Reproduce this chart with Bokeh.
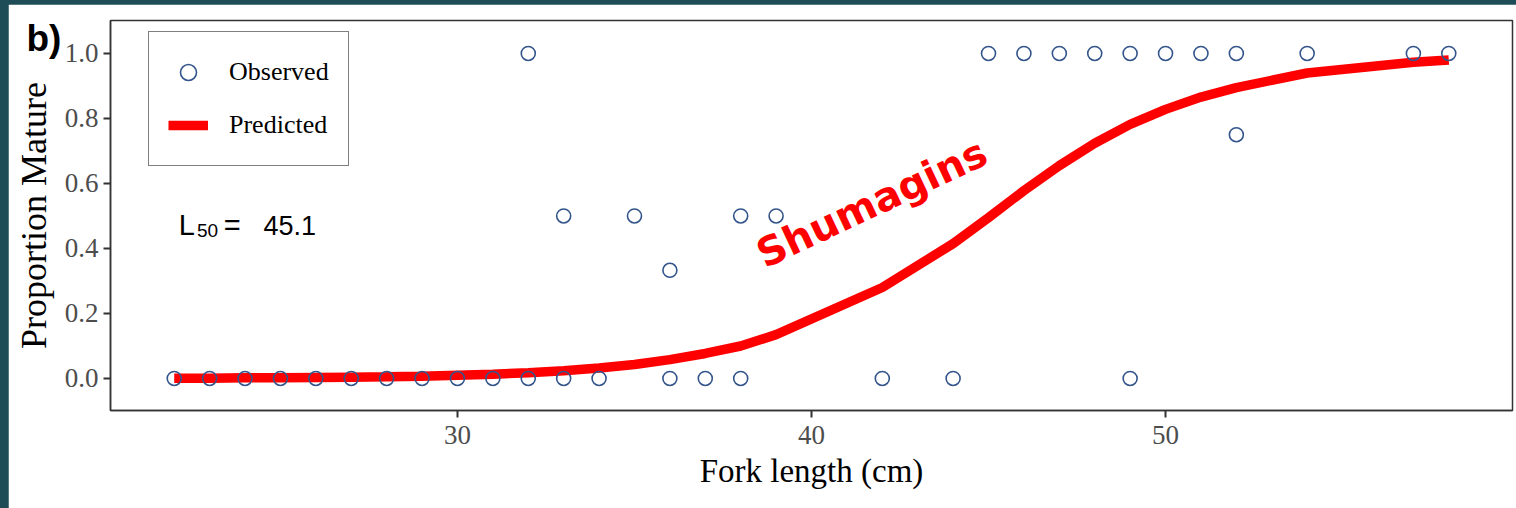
from bokeh.plotting import figure
from bokeh.models import (Range1d, Label, Legend, LegendItem, FixedTicker, PrintfTickFormatter,
                          ColumnDataSource, Title)
from bokeh.embed import file_html
from bokeh.resources import INLINE

# Observed data (fork length in cm, proportion mature)
fork_length_obs = [22, 23, 24, 25, 26, 27, 28, 29, 30, 31, 32, 32, 33, 33, 34, 35, 36, 36,
                   37, 38, 38, 39, 42, 44, 45, 46, 47, 48, 49, 49, 50, 51, 52, 52, 54, 57, 58]
prop_mature_obs = [0, 0, 0, 0, 0, 0, 0, 0, 0, 0, 0, 1.0, 0, 0.5, 0, 0.5, 0, 0.333,
                   0, 0, 0.5, 0.5, 0, 0, 1.0, 1.0, 1.0, 1.0, 1.0, 0, 1.0, 1.0, 1.0, 0.75, 1.0, 1.0, 1.0]

# Predicted curve (at each observed length)
fork_length_pred = [22, 23, 24, 25, 26, 27, 28, 29, 30, 31, 32, 33, 34, 35, 36, 37, 38, 39,
                    42, 44, 45, 46, 47, 48, 49, 50, 51, 52, 54, 57, 58]
prop_mature_pred = [0.001, 0.001, 0.002, 0.002, 0.003, 0.004, 0.005, 0.007, 0.010, 0.013,
                    0.018, 0.024, 0.032, 0.043, 0.058, 0.077, 0.100, 0.135,
                    0.280, 0.415, 0.495, 0.578, 0.655, 0.724, 0.782, 0.828, 0.866, 0.895,
                    0.940, 0.973, 0.980]

x_ticks = [30, 40, 50]
y_ticks = [0.0, 0.2, 0.4, 0.6, 0.8, 1.0]
l50_value = "45.1"

SERIF = "Liberation Serif"
SANS = "Liberation Sans"

p = figure(width=1508, height=504, output_backend="svg", toolbar_location=None,
           x_range=Range1d(20.2, 59.8), y_range=Range1d(-0.0985, 1.1015),
           min_border_left=102, min_border_right=4, min_border_top=16, min_border_bottom=98,
           background_fill_color="white", border_fill_color="white")

p.xgrid.visible = False
p.ygrid.visible = False
p.outline_line_color = "#333333"
p.outline_line_width = 1.5

for ax in (p.xaxis[0], p.yaxis[0]):
    ax.axis_line_color = "#333333"
    ax.axis_line_width = 1.5
    ax.major_tick_line_color = "#333333"
    ax.major_tick_line_width = 2
    ax.major_tick_out = 7
    ax.major_tick_in = 0
    ax.minor_tick_line_color = None
    ax.major_label_text_font = SERIF
    ax.major_label_text_font_size = "27px"
    ax.major_label_text_color = "#4d4d4d"
    ax.axis_label_text_font = SERIF
    ax.axis_label_text_font_style = "normal"
    ax.axis_label_text_color = "black"

p.xaxis[0].ticker = FixedTicker(ticks=x_ticks)
p.yaxis[0].ticker = FixedTicker(ticks=y_ticks)
p.yaxis[0].formatter = PrintfTickFormatter(format="%.1f")
p.xaxis[0].axis_label = "Fork length (cm)"
p.yaxis[0].axis_label = "Proportion Mature"
p.xaxis[0].axis_label_text_font_size = "33px"
p.yaxis[0].axis_label_text_font_size = "36px"
p.xaxis[0].major_label_standoff = 8
p.yaxis[0].major_label_standoff = 5
p.xaxis[0].axis_label_standoff = 6
p.yaxis[0].axis_label_standoff = 8

pred_src = ColumnDataSource(dict(x=fork_length_pred, y=prop_mature_pred))
obs_src = ColumnDataSource(dict(x=fork_length_obs, y=prop_mature_obs))

r_line = p.line("x", "y", source=pred_src, line_color="#ff0000", line_width=9.5)
r_obs = p.scatter("x", "y", source=obs_src, marker="circle", size=14,
                  fill_color=None, line_color="#34558b", line_width=1.6)

legend = Legend(items=[LegendItem(label="Observed", renderers=[r_obs]),
                       LegendItem(label="Predicted", renderers=[r_line])],
                location=(38, 244), orientation="vertical",
                label_text_font=SERIF, label_text_font_size="26px", label_text_color="black",
                glyph_width=40, glyph_height=42, label_height=42, label_standoff=21,
                spacing=11, padding=19, margin=0,
                border_line_color="black", border_line_width=1.5,
                background_fill_color="white", background_fill_alpha=1.0)
p.add_layout(legend, "center")

# "Shumagins" annotation
p.add_layout(Label(x=41.7, y=0.54, text="Shumagins", angle=0.44,
                   text_font="DejaVu Sans", text_font_style="bold", text_font_size="40px",
                   text_color="#ff0000", text_align="center", text_baseline="middle"))

# L50 annotation
p.add_layout(Label(x=22.13, y=0.4708, text="L", text_font=SANS, text_font_size="29px",
                   text_color="black", text_align="left", text_baseline="alphabetic"))
p.add_layout(Label(x=22.64, y=0.455, text="50", text_font=SANS, text_font_size="19px",
                   text_color="black", text_align="left", text_baseline="alphabetic"))
p.add_layout(Label(x=23.40, y=0.4708, text="=", text_font=SANS, text_font_size="29px",
                   text_color="black", text_align="left", text_baseline="alphabetic"))
p.add_layout(Label(x=24.52, y=0.4708, text=l50_value, text_font=SANS, text_font_size="27px",
                   text_color="black", text_align="left", text_baseline="alphabetic"))

# panel letter, drawn as a title so it is not clipped to the plotting frame
p.add_layout(Title(text="b)", align="left", offset=-84, standoff=-76, vertical_align="bottom",
                   text_font=SANS, text_font_style="bold", text_font_size="37px",
                   text_color="black"), "above")

html = file_html(p, INLINE)
style = ("<style>html, body {margin:0 !important; background:#1f4d57 !important;} "
         "body {padding:4px 0 0 8px !important;}</style>")
html = html.replace("</head>", style + "</head>", 1)
open("out.html", "w").write(html)
